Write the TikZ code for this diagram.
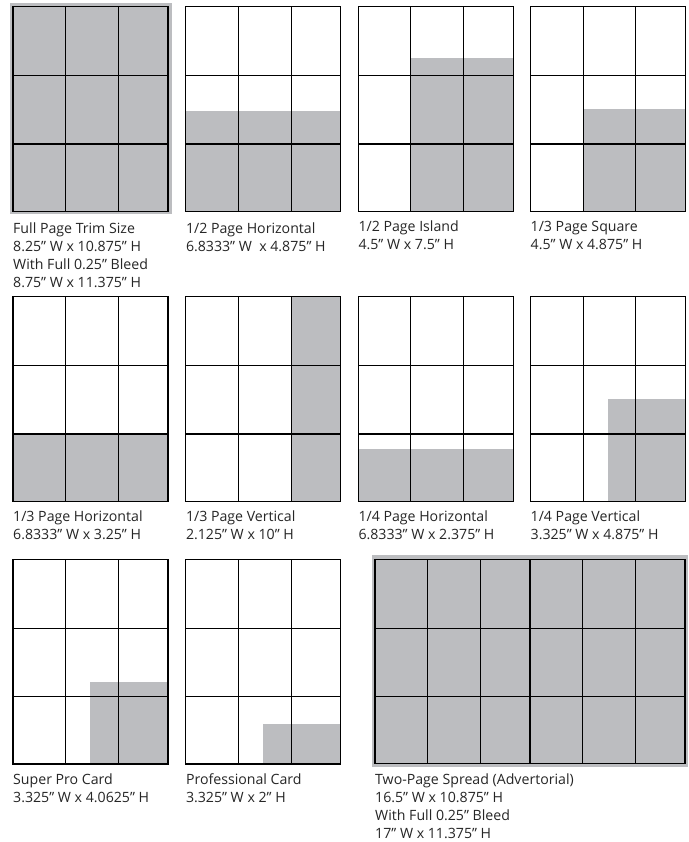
\documentclass[tikz,border=0pt]{standalone}
\usepackage{fontspec}
\setmainfont{Open Sans}
\definecolor{panelgrey}{HTML}{BCBDC0}
\tikzset{
  gridline/.style={draw=black, line width=1.1bp},
  lbl/.style={anchor=base west, inner sep=0pt, align=left, font=\fontsize{14.2}{18}\selectfont, text=black!85}
}
\newcommand\pagegrid[2]{%
  \draw[gridline] (#1,#2) rectangle ++(155,204.5);
  \draw[gridline] (#1+52.6,#2) -- ++(0,204.5);
  \draw[gridline] (#1+105.3,#2) -- ++(0,204.5);
  \draw[gridline] (#1,#2+69) -- ++(155,0);
  \draw[gridline] (#1,#2+137.3) -- ++(155,0);
}
\begin{document}
\begin{tikzpicture}[x=1bp,y=-1bp]
\useasboundingbox[fill=white] (0,0) rectangle (689,842);
% ---- Row 1
\fill[panelgrey] (10,3.3) rectangle (172,213.5);
\fill[panelgrey] (13,6.7) rectangle ++(155,204.5);
\pagegrid{13}{6.7}
\fill[panelgrey] (185.8,111) rectangle (340.8,211.2);
\pagegrid{185.8}{6.7}
\fill[panelgrey] (410.9,58.3) rectangle (513.3,211.2);
\pagegrid{358.3}{6.7}
\fill[panelgrey] (583.1,109) rectangle (685.5,211.2);
\pagegrid{530.5}{6.7}
% ---- Row 2
\fill[panelgrey] (13,434) rectangle (168,501.2);
\pagegrid{13}{296.7}
\fill[panelgrey] (291.1,296.7) rectangle (340.8,501.2);
\pagegrid{185.8}{296.7}
\fill[panelgrey] (358.3,449.3) rectangle (513.3,501.2);
\pagegrid{358.3}{296.7}
\fill[panelgrey] (608.3,399) rectangle (685.5,501.2);
\pagegrid{530.5}{296.7}
% ---- Row 3
\fill[panelgrey] (90,682) rectangle (168,764);
\pagegrid{13}{559.5}
\fill[panelgrey] (263.3,724) rectangle (340.8,764);
\pagegrid{185.8}{559.5}
% spread
\fill[panelgrey] (371.7,555) rectangle (688.3,767.3);
\draw[gridline] (375,559.3) rectangle (685,763.8);
\foreach \xx in {427.6,480.3,530,582.6,635.3}{\draw[gridline] (\xx,559.3) -- (\xx,763.8);}
\draw[gridline] (375,628.3) -- (685,628.3);
\draw[gridline] (375,696.6) -- (685,696.6);
% ---- Labels (anchor = baseline of last line)
\node[lbl] (l1) at (13,287) {Full Page Trim Size\\8.25” W x 10.875” H\\With Full 0.25” Bleed\\8.75” W x 11.375” H};
\node[lbl] (l2) at (185.8,251) {1/2 Page Horizontal\\6.8333” W\ \ x 4.875” H};
\node[lbl] (l3) at (358.3,249) {1/2 Page Island\\4.5” W x 7.5” H};
\node[lbl] (l4) at (530.5,249) {1/3 Page Square\\4.5” W x 4.875” H};
\node[lbl] (l5) at (13,539.5) {1/3 Page Horizontal\\6.8333” W x 3.25” H};
\node[lbl] (l6) at (185.8,539.5) {1/3 Page Vertical\\2.125” W x 10” H};
\node[lbl] (l7) at (358.3,539.5) {1/4 Page Horizontal\\6.8333” W x 2.375” H};
\node[lbl] (l8) at (530.5,539.5) {1/4 Page Vertical\\3.325” W x 4.875” H};
\node[lbl] (l9) at (13,802) {Super Pro Card\\3.325” W x 4.0625” H};
\node[lbl] (l10) at (185.8,802) {Professional Card\\3.325” W x 2” H};
\node[lbl] (l11) at (375,838) {Two-Page Spread (Advertorial)\\16.5” W x 10.875” H\\With Full 0.25” Bleed\\17” W x 11.375” H};
\end{tikzpicture}
\end{document}
